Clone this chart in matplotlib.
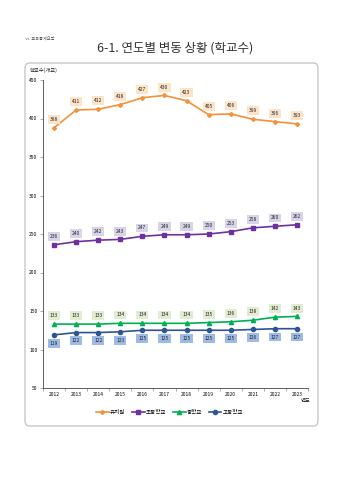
import matplotlib
matplotlib.use("Agg")
import matplotlib.pyplot as plt
from matplotlib.patches import FancyBboxPatch

plt.rcParams['font.family'] = ['Noto Sans CJK KR', 'DejaVu Sans']

years = ['2012', '2013', '2014', '2015', '2016', '2017', '2018', '2019', '2020', '2021', '2022', '2023']
kindergarten = [388, 411, 412, 418, 427, 430, 423, 405, 406, 399, 396, 393]
elementary = [236, 240, 242, 243, 247, 249, 249, 250, 253, 258, 260, 262]
middle = [133, 133, 133, 134, 134, 134, 134, 135, 136, 138, 142, 143]
high = [119, 122, 122, 123, 125, 125, 125, 125, 125, 126, 127, 127]
series_names = ['유치원', '초등학교', '중학교', '고등학교']

fig = plt.figure(figsize=(3.5, 4.8), dpi=100)
fig.patch.set_facecolor('white')

# header
fig.text(25/350, 1-38/480, 'ⅵ. 교육통계요람', fontsize=3, color='#555555', va='center', ha='left')
fig.text(175/350, 1-48/480, '6-1. 연도별 변동 상황 (학교수)', fontsize=9, color='#333333',
         va='center', ha='center')

# rounded frame
box = FancyBboxPatch((25/350, 1-426/480), (318-25)/350, (426-63)/480,
                     boxstyle='round,pad=0,rounding_size=0.012', transform=fig.transFigure,
                     facecolor='none', edgecolor='#c8c8c8', linewidth=1.0)
fig.patches.append(box)

ax = fig.add_axes([43/350, 1-388/480, (308-43)/350, (388-80)/480])
x = list(range(len(years)))

styles = [
    (kindergarten, '#f5913a', 'D', 2.0, '#fde3c8', 'above'),
    (elementary, '#7030a0', 's', 3.0, '#d8d4e8', 'above'),
    (middle, '#00b050', '^', 3.0, '#e2ecd0', 'above'),
    (high, '#2f5597', 'o', 3.0, '#9dbbe6', 'below'),
]
for (vals, col, mk, ms, bg, pos), name in zip(styles, series_names):
    ax.plot(x, vals, color=col, marker=mk, markersize=ms, linewidth=1.2, label=name)
    for xi, v in zip(x, vals):
        dy = 6 if pos == 'above' else -6
        ax.annotate(str(v), (xi, v), xytext=(0, dy), textcoords='offset points',
                    ha='center', va='center', fontsize=3.5, color='#222222',
                    bbox=dict(boxstyle='square,pad=0.4', facecolor=bg, edgecolor='none'))

ax.set_xlim(-0.5, 11.5)
ax.set_ylim(50, 450)
ax.set_yticks([50, 100, 150, 200, 250, 300, 350, 400, 450])
ax.set_xticks(x)
ax.set_xticklabels(years)
ax.set_xticks([i + 0.5 for i in range(-1, 12)], minor=True)
ax.tick_params(axis='x', which='major', length=0, labelsize=3.5, pad=3)
ax.tick_params(axis='x', which='minor', length=2, color='#888888', width=0.5)
ax.tick_params(axis='y', which='major', length=2, labelsize=3.5, color='#888888', width=0.5, pad=2)
for s in ['top', 'right']:
    ax.spines[s].set_visible(False)
ax.spines['left'].set_color('#444444')
ax.spines['bottom'].set_color('#444444')
ax.spines['left'].set_linewidth(0.6)
ax.spines['bottom'].set_linewidth(0.6)

fig.text(30/350, 1-70/480, '학교수(개교)', fontsize=3.8, ha='left', va='center', color='#222222')
fig.text(306/350, 1-401/480, '연도', fontsize=3.8, ha='center', va='center', color='#222222')

fig.legend(loc='center', bbox_to_anchor=(170/350, 1-412/480), ncol=4, frameon=False,
           fontsize=4, handlelength=2.2, columnspacing=1.2, handletextpad=0.3)

fig.savefig('out.png', dpi=100, facecolor='white')
